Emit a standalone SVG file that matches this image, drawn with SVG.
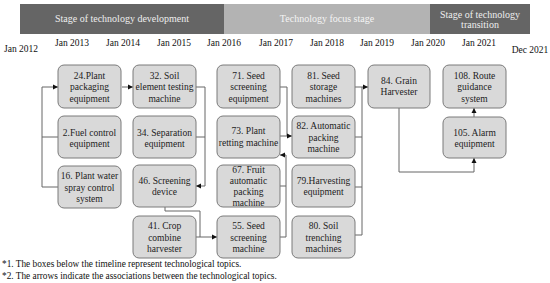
<svg xmlns="http://www.w3.org/2000/svg" width="550" height="283" viewBox="0 0 550 283">
<style>
text{font-family:"Liberation Serif","Times New Roman",Times,"DejaVu Serif",serif;fill:#222}
.stage{font-size:10px;fill:#eeeeee}
.yr{font-size:9.5px;text-anchor:middle;fill:#111}
.node rect{fill:#d9d9d9;stroke:#7a7a7a;stroke-width:1}
.node text{font-size:9.5px;text-anchor:middle}
.con path{fill:none;stroke:#666;stroke-width:1}
.note{font-size:9.3px;fill:#111}
</style>
<defs>
<marker id="ah" markerUnits="userSpaceOnUse" markerWidth="6" markerHeight="6" refX="5" refY="3" orient="auto">
<path d="M0,0.5 L5,3 L0,5.5 z" fill="#111"/>
</marker>
</defs>
<rect width="550" height="283" fill="#ffffff"/>
<g id="stages">
<rect x="20" y="4" width="204" height="30" fill="#656565"/>
<rect x="224" y="4" width="206" height="30" fill="#b3b3b3"/>
<rect x="430" y="4" width="100" height="30" fill="#656565"/>
<text class="stage" x="122" y="22" text-anchor="middle">Stage of technology development</text>
<text class="stage" x="327" y="22" text-anchor="middle" style="fill:#f5f5f5">Technology focus stage</text>
<text class="stage" x="480" y="18" text-anchor="middle">Stage of technology</text>
<text class="stage" x="480" y="28" text-anchor="middle">transition</text>
</g>
<g id="timeline">
<text class="yr" x="21" y="52">Jan 2012</text>
<text class="yr" x="72" y="46">Jan 2013</text>
<text class="yr" x="123" y="46">Jan 2014</text>
<text class="yr" x="174" y="46">Jan 2015</text>
<text class="yr" x="224" y="46">Jan 2016</text>
<text class="yr" x="276" y="46">Jan 2017</text>
<text class="yr" x="327" y="46">Jan 2018</text>
<text class="yr" x="377" y="46">Jan 2019</text>
<text class="yr" x="428" y="46">Jan 2020</text>
<text class="yr" x="479" y="46">Jan 2021</text>
<text class="yr" x="530" y="53">Dec 2021</text>
</g>
<g class="con" id="connectors">
<path d="M42,187 V87 H58" marker-end="url(#ah)"/>
<path d="M58,137 H42"/>
<path d="M58,187 H42"/>
<path d="M122,87 H133" marker-end="url(#ah)"/>
<path d="M196,87 H205 V186 H196" marker-end="url(#ah)"/>
<path d="M196,137 H205"/>
<path d="M165,207 V211 H200 V237 H217" marker-end="url(#ah)"/>
<path d="M196,237 H200"/>
<path d="M280,237 H286 V155 H280" marker-end="url(#ah)"/>
<path d="M280,186 H286"/>
<path d="M280,87 H287 V136 H292" marker-end="url(#ah)"/>
<path d="M280,136 H287"/>
<path d="M355,235 H362 V87 H368" marker-end="url(#ah)"/>
<path d="M355,87 H362"/>
<path d="M355,137 H362"/>
<path d="M355,187 H362"/>
<path d="M399,108 V172 H474 V158" marker-end="url(#ah)"/>
<path d="M474,117 V108" marker-end="url(#ah)"/>
</g>
<g class="node" id="n24"><rect x="58" y="65" width="63" height="43" rx="6"/>
<text x="89.5" y="78.5">24.Plant<tspan x="89.5" dy="11.5">packaging</tspan><tspan x="89.5" dy="11.5">equipment</tspan></text></g>
<g class="node" id="n2"><rect x="58" y="116" width="63" height="42" rx="6"/>
<text x="89.5" y="135.5">2.Fuel control<tspan x="89.5" dy="11.5">equipment</tspan></text></g>
<g class="node" id="n16"><rect x="58" y="166" width="63" height="42" rx="6"/>
<text x="89.5" y="179">16. Plant water<tspan x="89.5" dy="11.5">spray control</tspan><tspan x="89.5" dy="11.5">system</tspan></text></g>
<g class="node" id="n32"><rect x="133" y="65" width="63" height="43" rx="6"/>
<text x="164.5" y="78.5">32. Soil<tspan x="164.5" dy="11.5">element testing</tspan><tspan x="164.5" dy="11.5">machine</tspan></text></g>
<g class="node" id="n34"><rect x="133" y="116" width="63" height="42" rx="6"/>
<text x="164.5" y="135.5">34. Separation<tspan x="164.5" dy="11.5">equipment</tspan></text></g>
<g class="node" id="n46"><rect x="133" y="165" width="63" height="42" rx="6"/>
<text x="164.5" y="183.5">46. Screening<tspan x="164.5" dy="11.5">device</tspan></text></g>
<g class="node" id="n41"><rect x="133" y="216" width="63" height="42" rx="6"/>
<text x="164.5" y="229">41. Crop<tspan x="164.5" dy="11.5">combine</tspan><tspan x="164.5" dy="11.5">harvester</tspan></text></g>
<g class="node" id="n71"><rect x="217" y="65" width="63" height="43" rx="6"/>
<text x="248.5" y="78.5">71. Seed<tspan x="248.5" dy="11.5">screening</tspan><tspan x="248.5" dy="11.5">equipment</tspan></text></g>
<g class="node" id="n73"><rect x="217" y="116" width="63" height="42" rx="6"/>
<text x="248.5" y="134">73. Plant<tspan x="248.5" dy="11.5">retting machine</tspan></text></g>
<g class="node" id="n67"><rect x="217" y="165" width="63" height="42" rx="6"/>
<text x="248.5" y="173">67. Fruit<tspan x="248.5" dy="11">automatic</tspan><tspan x="248.5" dy="11">packing</tspan><tspan x="248.5" dy="11">machine</tspan></text></g>
<g class="node" id="n55"><rect x="217" y="216" width="63" height="42" rx="6"/>
<text x="248.5" y="229">55. Seed<tspan x="248.5" dy="11.5">screening</tspan><tspan x="248.5" dy="11.5">machine</tspan></text></g>
<g class="node" id="n81"><rect x="292" y="65" width="63" height="43" rx="6"/>
<text x="323.5" y="78.5">81. Seed<tspan x="323.5" dy="11.5">storage</tspan><tspan x="323.5" dy="11.5">machines</tspan></text></g>
<g class="node" id="n82"><rect x="292" y="116" width="63" height="42" rx="6"/>
<text x="323.5" y="129">82. Automatic<tspan x="323.5" dy="11.5">packing</tspan><tspan x="323.5" dy="11.5">machine</tspan></text></g>
<g class="node" id="n79"><rect x="292" y="165" width="63" height="42" rx="6"/>
<text x="323.5" y="183.5">79.Harvesting<tspan x="323.5" dy="11.5">equipment</tspan></text></g>
<g class="node" id="n80"><rect x="292" y="216" width="63" height="42" rx="6"/>
<text x="323.5" y="229">80. Soil<tspan x="323.5" dy="11.5">trenching</tspan><tspan x="323.5" dy="11.5">machines</tspan></text></g>
<g class="node" id="n84"><rect x="368" y="65" width="62" height="43" rx="6"/>
<text x="399" y="83.5">84. Grain<tspan x="399" dy="11.5">Harvester</tspan></text></g>
<g class="node" id="n108"><rect x="443" y="65" width="63" height="43" rx="6"/>
<text x="474.5" y="78.5">108. Route<tspan x="474.5" dy="11.5">guidance</tspan><tspan x="474.5" dy="11.5">system</tspan></text></g>
<g class="node" id="n105"><rect x="443" y="117" width="63" height="41" rx="6"/>
<text x="474.5" y="135.5">105. Alarm<tspan x="474.5" dy="11.5">equipment</tspan></text></g>
<g id="notes">
<text class="note" x="2" y="267">*1. The boxes below the timeline represent technological topics.</text>
<text class="note" x="2" y="279">*2. The arrows indicate the associations between the technological topics.</text>
</g>
</svg>
